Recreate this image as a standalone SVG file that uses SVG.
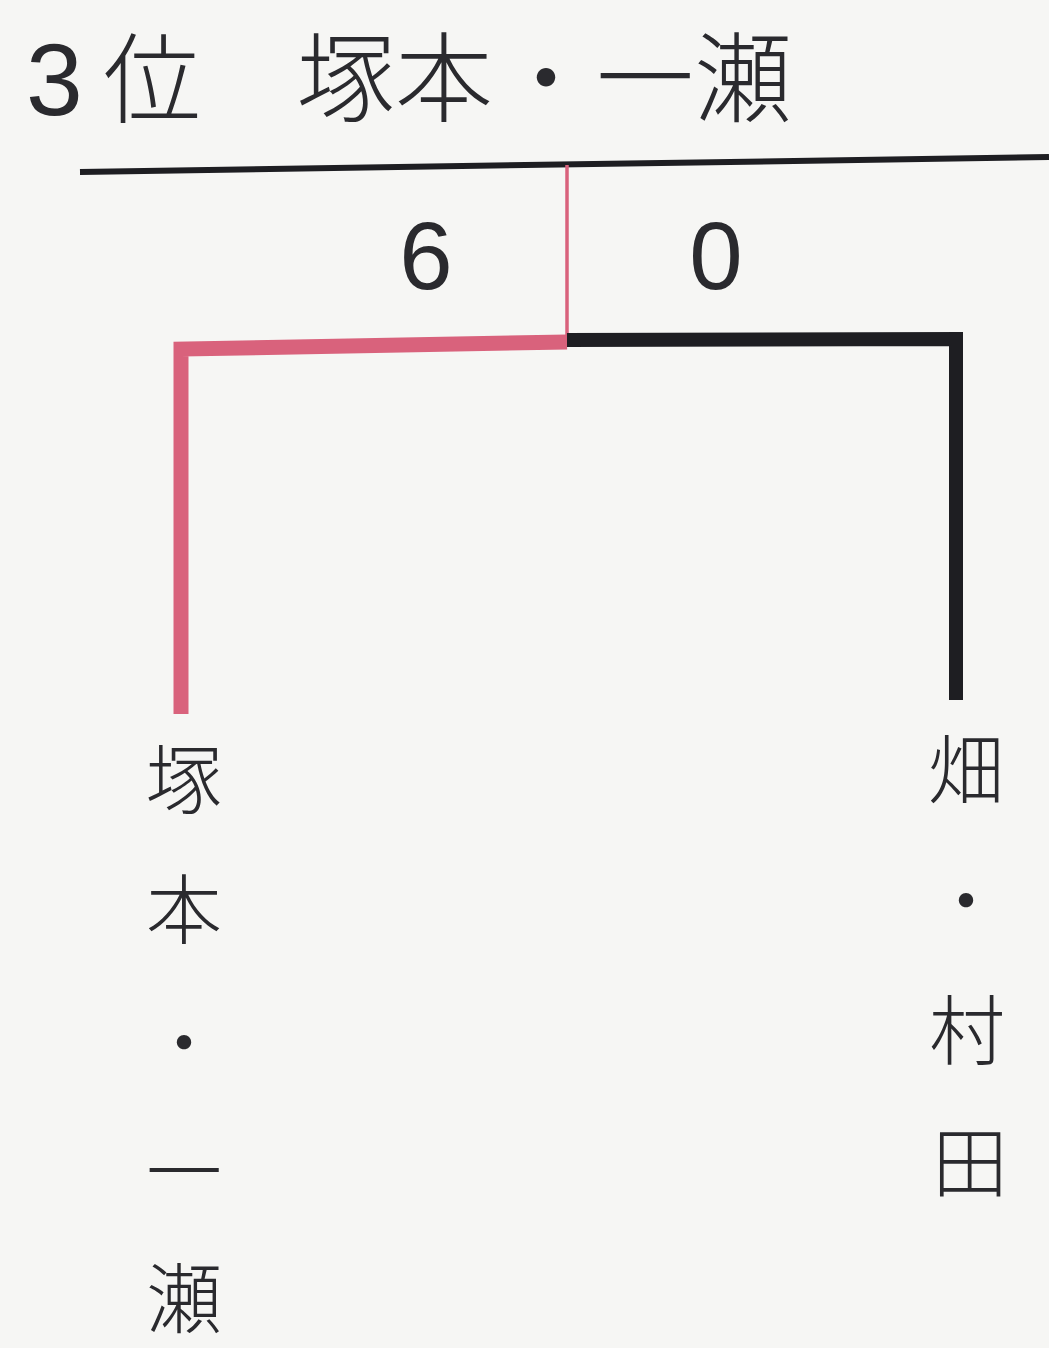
<svg xmlns="http://www.w3.org/2000/svg" width="1049" height="1348" viewBox="0 0 1049 1348">
  <style>
    .jp { font-family: "Noto Sans CJK JP", "Noto Sans", sans-serif; font-weight: 300; fill: #2a2a2e; }
    .num { font-family: "Liberation Sans", Arial, sans-serif; fill: #2a2a2e; }
    .v { font-size: 76px; text-anchor: middle; dominant-baseline: central; }
    .red { stroke: #d9627c; fill: none; }
    .blk { stroke: #1e1e22; fill: none; }
  </style>
  <rect x="0" y="0" width="1049" height="1348" fill="#f6f6f4"/>

  <g id="title">
    <text class="num" x="26" y="115" font-size="102">3</text>
    <text class="jp" x="103" y="115" font-size="98">位</text>
    <text class="jp" x="297" y="114" font-size="98">塚本</text>
    <text class="jp" x="497" y="114" font-size="98">・</text>
    <text class="jp" x="596" y="114" font-size="98">一瀬</text>
  </g>

  <g id="connectors">
    <line class="blk" x1="80" y1="172" x2="1049" y2="157" stroke-width="6"/>
    <line class="red" x1="567" y1="165" x2="567" y2="342" stroke-width="3.5"/>
    <polyline class="red" points="181,714 181,349 567,342" stroke-width="15" stroke-linejoin="miter"/>
    <polyline class="blk" points="567,340 956,339 956,700" stroke-width="14" stroke-linejoin="miter"/>
  </g>

  <g id="score-left">
    <text class="num" x="426" y="289" font-size="96" text-anchor="middle">6</text>
  </g>
  <g id="score-right">
    <text class="num" x="716" y="289" font-size="96" text-anchor="middle">0</text>
  </g>

  <g id="team-left" class="jp">
    <text class="v" x="184" y="775">塚</text>
    <text class="v" x="184" y="905">本</text>
    <text class="v" x="184" y="1038">・</text>
    <text class="v" x="184" y="1167">一</text>
    <text class="v" x="184" y="1294" font-size="74">瀬</text>
  </g>

  <g id="team-right" class="jp">
    <text class="v" x="966" y="765">畑</text>
    <text class="v" x="966" y="896">・</text>
    <text class="v" x="967" y="1026">村</text>
    <text class="v" x="970" y="1158">田</text>
  </g>
</svg>
